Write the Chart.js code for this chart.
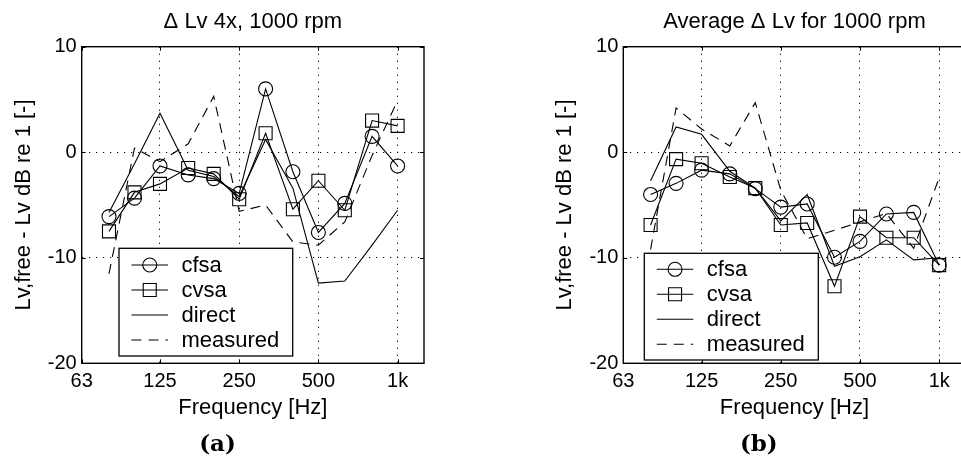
<!DOCTYPE html>
<html><head><meta charset="utf-8">
<script src="https://cdn.jsdelivr.net/npm/chart.js@4.4.0/dist/chart.umd.min.js"></script>
<style>
html,body{margin:0;padding:0;background:#fff;overflow:hidden;width:961px;height:458px;position:relative}
#wrapA{position:absolute;left:0;top:0;width:480px;height:458px}
#wrapB{position:absolute;left:480px;top:0;width:500px;height:458px}
canvas{display:block}
</style></head><body>
<div id="wrapA"><canvas id="cA" width="480" height="458"></canvas></div>
<div id="wrapB"><canvas id="cB" width="500" height="458"></canvas></div>
<script>
// ---- data ----
const frequencies = [80, 100, 125, 160, 200, 250, 315, 400, 500, 630, 800, 1000];
const xTickValues = [63, 125, 250, 500, 1000];
const xTickLabels = ['63', '125', '250', '500', '1k'];
const yTickValues = [-20, -10, 0, 10];
const yTickLabels = ['-20', '-10', '0', '10'];
const seriesNames = ['cfsa', 'cvsa', 'direct', 'measured'];

// (a) Delta Lv 4x, 1000 rpm
const a_cfsa     = [-6.1, -4.35, -1.3, -2.15, -2.5, -3.9, 6.0, -1.85, -7.6, -4.85, 1.5, -1.3];
const a_cvsa     = [-7.5, -3.8, -3.0, -1.5, -2.05, -4.45, 1.8, -5.4, -2.7, -5.5, 3.0, 2.5];
const a_direct   = [-5.7, -1.1, 3.7, -1.7, -2.3, -4.2, 1.2, -3.4, -12.4, -12.2, -8.8, -5.5];
const a_measured = [-11.5, 0.4, -0.9, 0.8, 5.3, -5.6, -5.0, -8.5, -8.8, -6.6, -0.3, 4.9];

// (b) Average Delta Lv for 1000 rpm
const b_cfsa     = [-4.0, -2.95, -1.7, -2.05, -3.45, -5.2, -4.9, -9.95, -8.45, -5.85, -5.7, -10.7];
const b_cvsa     = [-6.9, -0.65, -1.05, -2.35, -3.4, -6.9, -6.7, -12.7, -6.1, -8.1, -8.1, -10.7];
const b_direct   = [-2.7, 2.4, 1.7, -1.8, -3.4, -6.5, -4.0, -10.8, -9.9, -8.3, -10.2, -10.0];
const b_measured = [-9.2, 4.2, 2.2, 0.6, 4.7, -3.6, -8.2, -7.4, -6.6, -5.8, -9.1, -2.4];

const titleA = 'Δ Lv 4x, 1000 rpm';
const titleB = 'Average Δ Lv for 1000 rpm';
const xTitle = 'Frequency [Hz]';
const yTitle = 'Lv,free - Lv dB re 1 [-]';

// ---- styling ----
const SANS = '"Liberation Sans", Arial, Helvetica, sans-serif';
Chart.defaults.font.family = SANS;
Chart.defaults.color = '#000';

const styles = [
  {pointStyle: 'circle', pointRadius: 7, borderDash: []},
  {pointStyle: 'rect', pointRadius: 9.2, borderDash: []},
  {pointStyle: false, pointRadius: 0, borderDash: []},
  {pointStyle: false, pointRadius: 0, borderDash: [10, 7]}
];

function makeDatasets(seriesList) {
  return seriesList.map((vals, i) => ({
    label: seriesNames[i],
    data: frequencies.map((f, k) => ({x: f, y: vals[k]})),
    borderColor: '#000',
    borderWidth: 1.1,
    borderDash: styles[i].borderDash,
    pointStyle: styles[i].pointStyle || 'circle',
    pointRadius: styles[i].pointRadius,
    pointHoverRadius: styles[i].pointRadius,
    pointBorderColor: '#000',
    pointBackgroundColor: 'rgba(0,0,0,0)',
    pointBorderWidth: 1.1,
    fill: false,
    tension: 0
  }));
}

const framePlugin = {
  id: 'frame',
  afterDatasetsDraw(chart) {
    const {ctx, chartArea: a, scales: {x, y}} = chart;
    ctx.save();
    ctx.setLineDash([]);
    ctx.strokeStyle = '#000';
    ctx.lineWidth = 1.4;
    ctx.strokeRect(a.left, a.top, a.right - a.left, a.bottom - a.top);
    ctx.lineWidth = 1;
    const tl = 4;
    ctx.beginPath();
    xTickValues.forEach(v => {
      const px = Math.round(x.getPixelForValue(v)) + 0.5;
      ctx.moveTo(px, a.bottom); ctx.lineTo(px, a.bottom - tl);
      ctx.moveTo(px, a.top); ctx.lineTo(px, a.top + tl);
    });
    yTickValues.forEach(v => {
      const py = Math.round(y.getPixelForValue(v)) + 0.5;
      ctx.moveTo(a.left, py); ctx.lineTo(a.left + tl, py);
      ctx.moveTo(a.right, py); ctx.lineTo(a.right - tl, py);
    });
    ctx.stroke();
    ctx.restore();
  }
};

const boxLegendPlugin = {
  id: 'boxLegend',
  afterDraw(chart, args, opts) {
    const {ctx, chartArea: a} = chart;
    const x0 = a.left + opts.dx;
    const y0 = a.bottom - opts.dy - opts.h;
    ctx.save();
    ctx.fillStyle = '#fff';
    ctx.fillRect(x0, y0, opts.w, opts.h);
    ctx.strokeStyle = '#000';
    ctx.lineWidth = 1.3;
    ctx.setLineDash([]);
    ctx.strokeRect(x0, y0, opts.w, opts.h);
    chart.data.datasets.forEach((ds, i) => {
      const cy = y0 + opts.firstRow + i * opts.rowH;
      ctx.strokeStyle = '#000';
      ctx.lineWidth = 1.1;
      ctx.setLineDash(ds.borderDash || []);
      ctx.beginPath();
      ctx.moveTo(x0 + 12.5, cy);
      ctx.lineTo(x0 + 49, cy);
      ctx.stroke();
      ctx.setLineDash([]);
      if (ds.pointRadius > 0) {
        ctx.fillStyle = 'rgba(0,0,0,0)';
        Chart.helpers.drawPoint(ctx, {pointStyle: ds.pointStyle, radius: ds.pointRadius, borderWidth: 1.1, rotation: 0}, x0 + 30.75, cy);
      }
      ctx.fillStyle = '#000';
      ctx.font = '22px ' + SANS;
      ctx.textBaseline = 'middle';
      ctx.textAlign = 'left';
      ctx.fillText(ds.label, x0 + 62.5, cy + 1);
    });
    ctx.restore();
  }
};

function makeChart(id, title, sub, seriesList, cfg) {
  return new Chart(document.getElementById(id), {
    type: 'line',
    data: {datasets: makeDatasets(seriesList)},
    options: {
      responsive: false,
      animation: false,
      devicePixelRatio: 1,
      events: [],
      layout: {padding: {left: cfg.padL, right: cfg.padR, top: 0, bottom: 0}},
      plugins: {
        legend: {display: false},
        tooltip: {enabled: false},
        title: {
          display: true, text: title, fullSize: false, color: '#000',
          font: {size: 22, family: SANS, weight: 'normal', lineHeight: 1.2},
          padding: {top: 8.6, bottom: 11.7}
        },
        subtitle: {
          display: true, text: sub, position: 'bottom', color: '#000',
          font: {size: 23, family: '"DejaVu Serif", serif', weight: 'bold', lineHeight: 1.1},
          padding: {top: 0, bottom: 0}
        },
        boxLegend: cfg.legend
      },
      scales: {
        x: {
          type: 'logarithmic', min: 63, max: 1260, bounds: 'data',
          afterBuildTicks: s => { s.ticks = xTickValues.map(v => ({value: v})); },
          afterFit: s => { s.height = 69.4; },
          ticks: {
            autoSkip: false, maxRotation: 0, minRotation: 0, padding: 5.7, color: '#000',
            font: {size: 20, family: SANS},
            callback: (v) => { const k = xTickValues.indexOf(v); return k >= 0 ? xTickLabels[k] : ''; }
          },
          grid: {color: '#000', lineWidth: 1, drawTicks: false},
          border: {display: false, dash: [1.2, 5.8]},
          title: {display: true, text: xTitle, color: '#000', font: {size: 22, family: SANS}, padding: {top: 0, bottom: 11.6}}
        },
        y: {
          type: 'linear', min: -20, max: 10,
          afterBuildTicks: s => { s.ticks = yTickValues.map(v => ({value: v})); },
          afterFit: s => { s.width = cfg.yW; },
          ticks: {
            padding: 5, color: '#000', font: {size: 20, family: SANS},
            callback: (v) => { const k = yTickValues.indexOf(v); return k >= 0 ? yTickLabels[k] : ''; }
          },
          grid: {color: '#000', lineWidth: 1, drawTicks: false},
          border: {display: false, dash: [1.2, 5.8]},
          title: {display: true, text: yTitle, color: '#000', font: {size: 22, family: SANS}, padding: {top: 0, bottom: 0}}
        }
      }
    },
    plugins: [framePlugin, boxLegendPlugin]
  });
}

makeChart('cA', titleA, '(a)', [a_cfsa, a_cvsa, a_direct, a_measured],
  {padL: 11, padR: 56, yW: 70.7, legend: {dx: 37.3, dy: 7.3, w: 173.7, h: 107.7, firstRow: 16.7, rowH: 25}});
makeChart('cB', titleB, '(b)', [b_cfsa, b_cvsa, b_direct, b_measured],
  {padL: 72, padR: 14.4, yW: 71.3, legend: {dx: 21, dy: 3.3, w: 174, h: 106.7, firstRow: 16, rowH: 25}});
</script>
</body></html>
